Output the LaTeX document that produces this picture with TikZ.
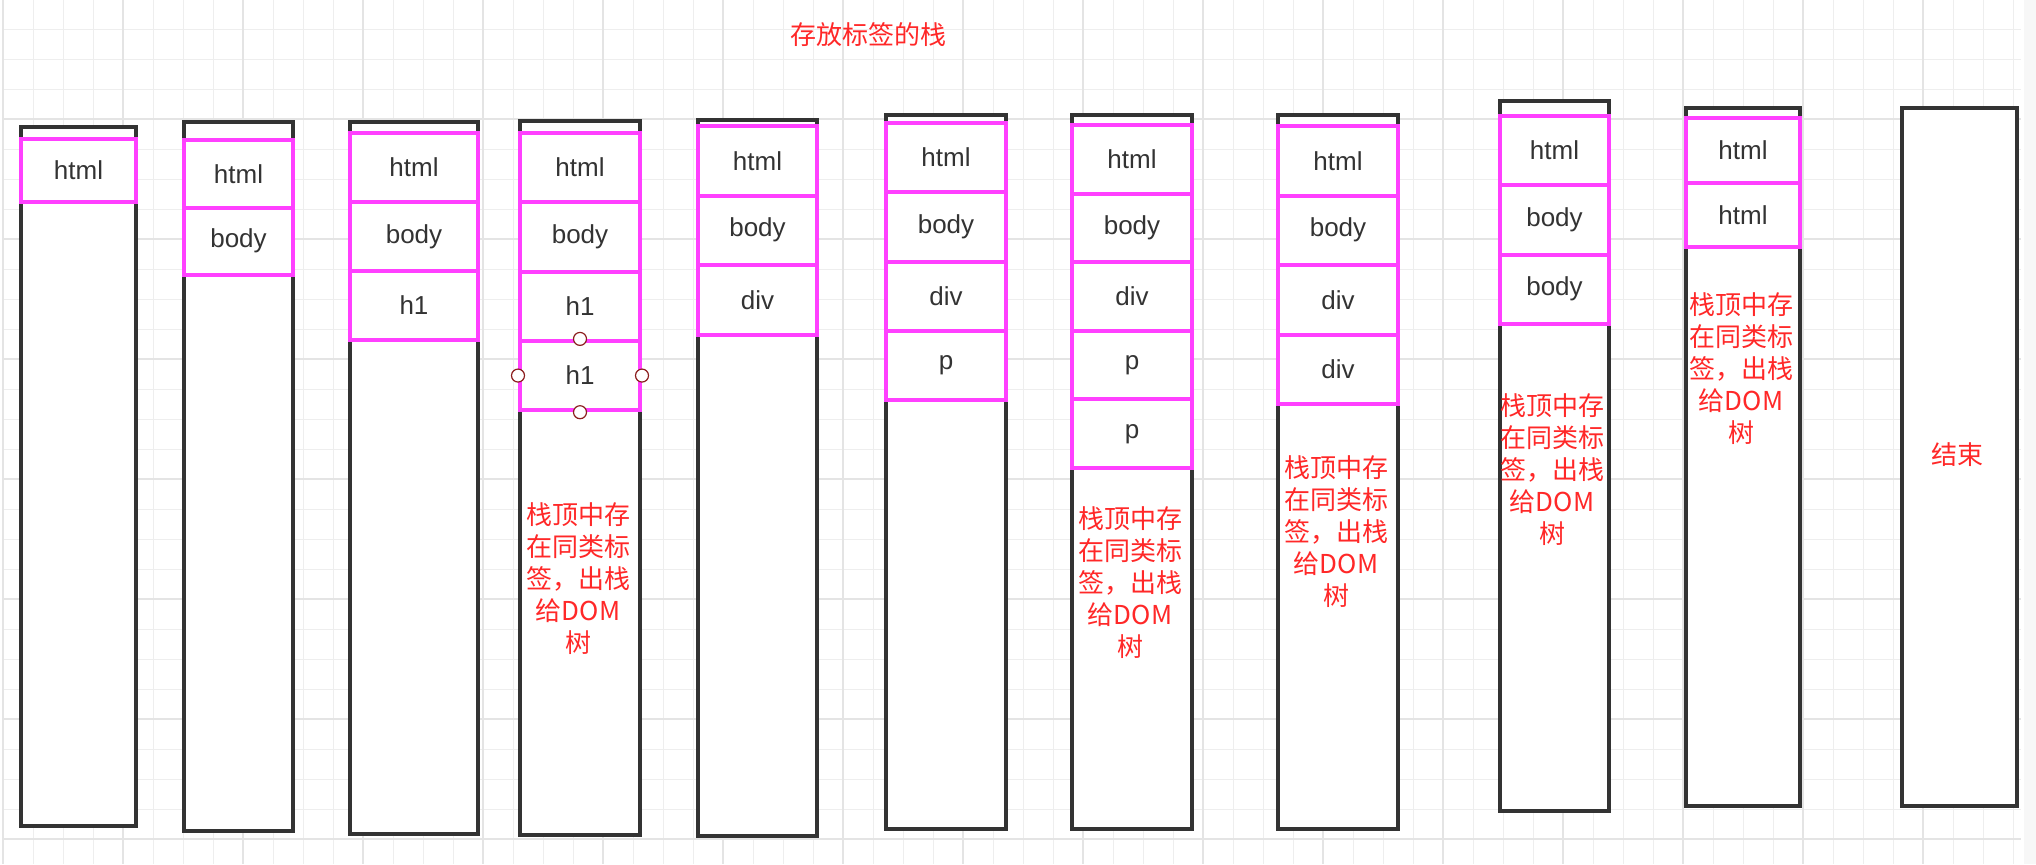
\documentclass[tikz,border=0pt]{standalone}
\usepackage{fontspec}
\setmainfont{Liberation Sans}
\newfontfamily\cjk{Noto Sans CJK SC}

\definecolor{rose}{RGB}{255,64,255}
\definecolor{rouge}{RGB}{255,40,40}
\definecolor{encre}{RGB}{51,51,51}
\definecolor{brun}{RGB}{140,30,30}
\definecolor{fin}{RGB}{238,238,238}
\definecolor{gros}{RGB}{228,228,228}

\newcommand{\depile}{栈顶中存\\在同类标\\签，出栈\\给DOM\\树}

\tikzset{
  pile/.style={draw=encre, line width=2pt, fill=white, inner sep=0pt, anchor=north west},
  case/.style={draw=rose, line width=2pt, fill=white, inner sep=0pt, anchor=north west,
    text=encre, font=\fontsize{13}{16}\selectfont},
  note/.style={text=rouge, align=center, inner sep=0pt, font=\cjk\fontsize{13}{16}\selectfont},
  poignee/.style={circle, draw=brun, fill=white, line width=0.6pt, minimum size=6.5pt, inner sep=0pt},
}

\begin{document}
\begin{tikzpicture}[x=0.5pt, y=-0.5pt]

  \useasboundingbox (0,0) rectangle (2036,864);
  \fill[white] (0,0) rectangle (2036,864);

  % Quadrillage
  \fill[fin!50] (2024,0) rectangle (2036,864);
  \foreach \x in {3,33,...,2013}
    \draw[fin, line width=0.5pt] (\x,0) -- (\x,864);
  \foreach \y in {29,59,...,839}
    \draw[fin, line width=0.5pt] (3,\y) -- (2021,\y);
  \foreach \x in {3,123,...,2003}
    \draw[gros, line width=1pt] (\x,0) -- (\x,864);
  \foreach \y in {119,239,...,839}
    \draw[gros, line width=1pt] (3,\y) -- (2021,\y);

  % Titre
  \node[note] (titre) at (868,35) {存放标签的栈};

  % Piles
  \foreach \n/\l/\r/\t/\b in {1/17/136/123/826, 2/180/293/118/831, 3/346/478/118/834,
      4/516/640/117/835, 5/694/817/116/836, 6/882/1006/111/829, 7/1068/1192/111/829,
      8/1274/1398/111/829, 9/1496/1609/97/811, 10/1682/1800/104/806, 11/1898/2017/104/806}
    \node[pile, minimum width={(\r-\l-4)*0.5pt}, minimum height={(\b-\t-4)*0.5pt}]
      (p\n) at (\l+2,\t+2) {};

  % Cases
  \foreach \n/\l/\r/\c/\h/\labs in {1/17/136/136/63/{html},
      2/180/293/137/67.5/{html,body},
      3/346/478/130/69/{html,body,h1},
      4/516/640/130/69.3/{html,body,h1,h1},
      5/694/817/123/69.5/{html,body,div},
      6/882/1006/120/69.3/{html,body,div,p},
      7/1068/1192/122/68.6/{html,body,div,p,p},
      8/1274/1398/123/69.5/{html,body,div,div},
      9/1496/1609/113/69.3/{html,body,body},
      10/1682/1800/115/64.5/{html,html}}
    \foreach \lab [count=\i] in \labs
      \node[case, minimum width={(\r-\l-4)*0.5pt}, minimum height={\h*0.5pt}]
        (c\n-\i) at (\l+2,{\c+1+(\i-1)*\h}) {\lab};

  % Poignees
  \foreach \a in {north,south,east,west}
    \node[poignee] (h-\a) at (c4-4.\a) {};

  % Textes
  \node[note] (n4) at (578,579) {\depile};
  \node[note] (n7) at (1130,583) {\depile};
  \node[note] (n8) at (1336,532) {\depile};
  \node[note] (n9) at (1552,470) {\depile};
  \node[note] (n10) at (1741,369) {\depile};
  \node[note] (n11) at (1957,455) {结束};

\end{tikzpicture}
\end{document}
